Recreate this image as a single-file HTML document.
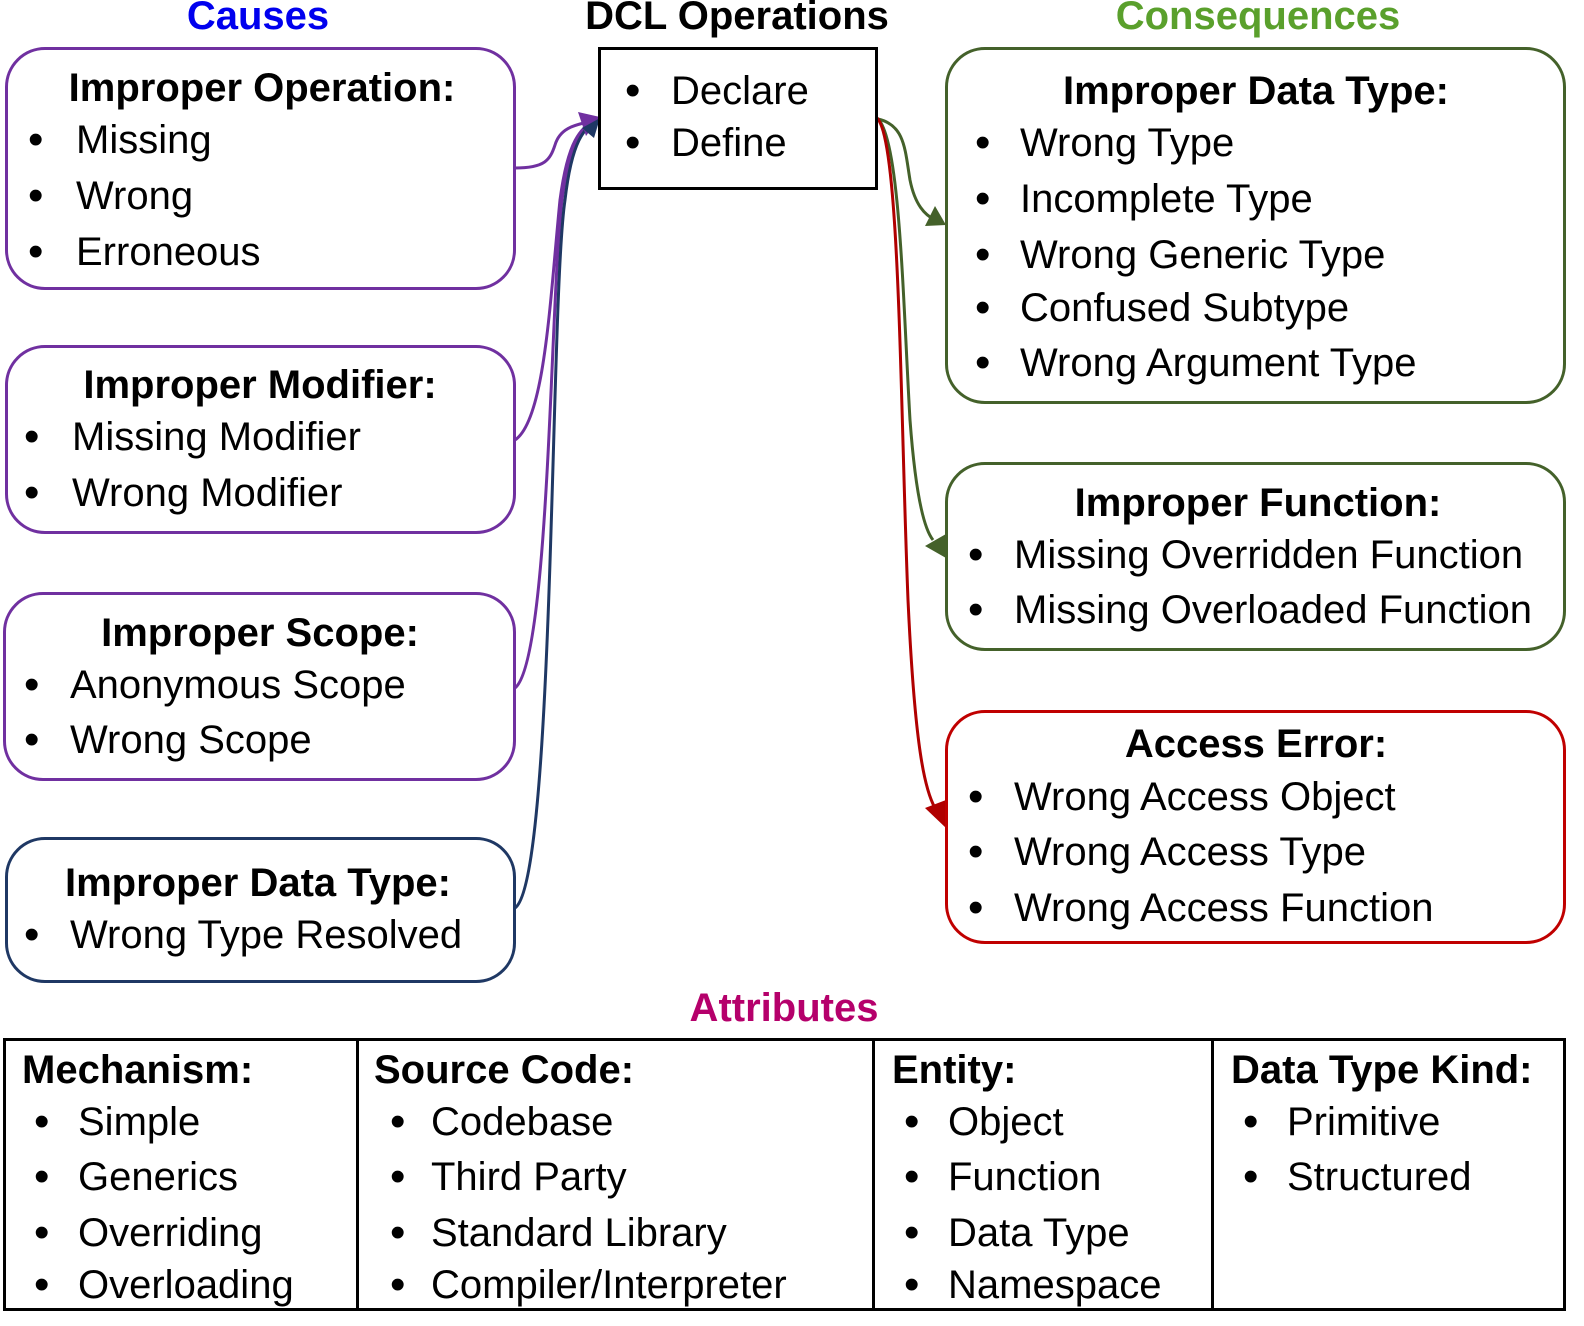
<!DOCTYPE html>
<html><head><meta charset="utf-8"><style>
body{margin:0;width:1584px;height:1326px;background:#fff;position:relative;overflow:hidden;font-family:"Liberation Sans",sans-serif;color:#000}
.t{position:absolute;white-space:nowrap;font-size:40px;line-height:44px;transform:translateY(-50%)}
.b{font-weight:bold}
.c{transform:translate(-50%,-50%)}
.u{font-size:44px}
.box{position:absolute;box-sizing:border-box;border:3px solid;border-radius:40px}
</style></head><body>
<svg width="1584" height="1326" style="position:absolute;left:0;top:0">
<g fill="none" stroke-width="3">
<path d="M515,168 C545,168 550,160 555,145 C560,128 575,125 588,122" stroke="#7030a0"/>
<path d="M515,440 C545,420 550,300 560,200 C568,140 580,128 598,118" stroke="#7030a0"/>
<path d="M515,688 C550,660 550,300 562,200 C570,140 582,128 598,120" stroke="#7030a0"/>
<path d="M515,908 C555,880 550,300 565,200 C572,140 584,128 598,120" stroke="#1f3864"/>
<path d="M878,119 C905,125 905,150 910,180 C915,205 925,215 935,220" stroke="#44612a"/>
<path d="M878,119 C900,140 903,300 910,420 C916,500 925,530 933,540" stroke="#44612a"/>
<path d="M877,118 C900,140 900,400 908,600 C915,750 925,790 935,808" stroke="#b00000"/>
</g>
<path d="M600,117 L578,112 L586,136 Z" fill="#7030a0"/>
<path d="M600,118 L582,128 L594,138 Z" fill="#1f3864"/>
<path d="M946,225 L925,226 L935,206 Z" fill="#44612a"/>
<path d="M946,534 L925,546 L946,558 Z" fill="#44612a"/>
<path d="M946,828 L925,808 L946,800 Z" fill="#b00000"/>
</svg>

<div class="t b c" style="left:258px;top:16px;color:#0000ee">Causes</div>
<div class="t b c" style="left:737px;top:16px">DCL Operations</div>
<div class="t b c" style="left:1258px;top:16px;color:#5aa02c">Consequences</div>

<div class="box" style="left:5px;top:47px;width:511px;height:243px;border-color:#7030a0"></div>
<div class="t b c" style="left:262px;top:88px">Improper Operation:</div>
<div class="t u" style="left:28px;top:140px">•</div><div class="t" style="left:76px;top:140px">Missing</div>
<div class="t u" style="left:28px;top:196px">•</div><div class="t" style="left:76px;top:196px">Wrong</div>
<div class="t u" style="left:28px;top:252px">•</div><div class="t" style="left:76px;top:252px">Erroneous</div>

<div class="box" style="left:5px;top:345px;width:511px;height:189px;border-color:#7030a0"></div>
<div class="t b c" style="left:260px;top:385px">Improper Modifier:</div>
<div class="t u" style="left:24px;top:437px">•</div><div class="t" style="left:72px;top:437px">Missing Modifier</div>
<div class="t u" style="left:24px;top:493px">•</div><div class="t" style="left:72px;top:493px">Wrong Modifier</div>

<div class="box" style="left:3px;top:592px;width:513px;height:189px;border-color:#7030a0"></div>
<div class="t b c" style="left:260px;top:633px">Improper Scope:</div>
<div class="t u" style="left:24px;top:685px">•</div><div class="t" style="left:70px;top:685px">Anonymous Scope</div>
<div class="t u" style="left:24px;top:740px">•</div><div class="t" style="left:70px;top:740px">Wrong Scope</div>

<div class="box" style="left:5px;top:837px;width:511px;height:146px;border-color:#1f3864"></div>
<div class="t b c" style="left:258px;top:883px">Improper Data Type:</div>
<div class="t u" style="left:24px;top:935px">•</div><div class="t" style="left:70px;top:935px">Wrong Type Resolved</div>

<div style="position:absolute;left:598px;top:47px;width:280px;height:143px;box-sizing:border-box;border:3px solid #000"></div>
<div class="t u" style="left:625px;top:91px">•</div><div class="t" style="left:671px;top:91px">Declare</div>
<div class="t u" style="left:625px;top:143px">•</div><div class="t" style="left:671px;top:143px">Define</div>

<div class="box" style="left:945px;top:47px;width:621px;height:357px;border-color:#44612a"></div>
<div class="t b c" style="left:1256px;top:91px">Improper Data Type:</div>
<div class="t u" style="left:975px;top:143px">•</div><div class="t" style="left:1020px;top:143px">Wrong Type</div>
<div class="t u" style="left:975px;top:199px">•</div><div class="t" style="left:1020px;top:199px">Incomplete Type</div>
<div class="t u" style="left:975px;top:255px">•</div><div class="t" style="left:1020px;top:255px">Wrong Generic Type</div>
<div class="t u" style="left:975px;top:308px">•</div><div class="t" style="left:1020px;top:308px">Confused Subtype</div>
<div class="t u" style="left:975px;top:363px">•</div><div class="t" style="left:1020px;top:363px">Wrong Argument Type</div>

<div class="box" style="left:945px;top:462px;width:621px;height:189px;border-color:#44612a"></div>
<div class="t b c" style="left:1258px;top:503px">Improper Function:</div>
<div class="t u" style="left:968px;top:555px">•</div><div class="t" style="left:1014px;top:555px">Missing Overridden Function</div>
<div class="t u" style="left:968px;top:610px">•</div><div class="t" style="left:1014px;top:610px">Missing Overloaded Function</div>

<div class="box" style="left:945px;top:710px;width:621px;height:234px;border-color:#c00000"></div>
<div class="t b c" style="left:1256px;top:744px">Access Error:</div>
<div class="t u" style="left:968px;top:797px">•</div><div class="t" style="left:1014px;top:797px">Wrong Access Object</div>
<div class="t u" style="left:968px;top:852px">•</div><div class="t" style="left:1014px;top:852px">Wrong Access Type</div>
<div class="t u" style="left:968px;top:908px">•</div><div class="t" style="left:1014px;top:908px">Wrong Access Function</div>

<div class="t b c" style="left:784px;top:1008px;color:#b5006b">Attributes</div>
<div style="position:absolute;left:3px;top:1038px;width:1563px;height:273px;box-sizing:border-box;border:3px solid #000"></div>
<div style="position:absolute;left:356px;top:1038px;width:3px;height:273px;background:#000"></div>
<div style="position:absolute;left:872px;top:1038px;width:3px;height:273px;background:#000"></div>
<div style="position:absolute;left:1211px;top:1038px;width:3px;height:273px;background:#000"></div>

<div class="t b" style="left:22px;top:1070px">Mechanism:</div>
<div class="t u" style="left:34px;top:1122px">•</div><div class="t" style="left:78px;top:1122px">Simple</div>
<div class="t u" style="left:34px;top:1177px">•</div><div class="t" style="left:78px;top:1177px">Generics</div>
<div class="t u" style="left:34px;top:1233px">•</div><div class="t" style="left:78px;top:1233px">Overriding</div>
<div class="t u" style="left:34px;top:1285px">•</div><div class="t" style="left:78px;top:1285px">Overloading</div>

<div class="t b" style="left:374px;top:1070px">Source Code:</div>
<div class="t u" style="left:390px;top:1122px">•</div><div class="t" style="left:431px;top:1122px">Codebase</div>
<div class="t u" style="left:390px;top:1177px">•</div><div class="t" style="left:431px;top:1177px">Third Party</div>
<div class="t u" style="left:390px;top:1233px">•</div><div class="t" style="left:431px;top:1233px">Standard Library</div>
<div class="t u" style="left:390px;top:1285px">•</div><div class="t" style="left:431px;top:1285px">Compiler/Interpreter</div>

<div class="t b" style="left:892px;top:1070px">Entity:</div>
<div class="t u" style="left:904px;top:1122px">•</div><div class="t" style="left:948px;top:1122px">Object</div>
<div class="t u" style="left:904px;top:1177px">•</div><div class="t" style="left:948px;top:1177px">Function</div>
<div class="t u" style="left:904px;top:1233px">•</div><div class="t" style="left:948px;top:1233px">Data Type</div>
<div class="t u" style="left:904px;top:1285px">•</div><div class="t" style="left:948px;top:1285px">Namespace</div>

<div class="t b" style="left:1231px;top:1070px">Data Type Kind:</div>
<div class="t u" style="left:1243px;top:1122px">•</div><div class="t" style="left:1287px;top:1122px">Primitive</div>
<div class="t u" style="left:1243px;top:1177px">•</div><div class="t" style="left:1287px;top:1177px">Structured</div>
</body></html>
